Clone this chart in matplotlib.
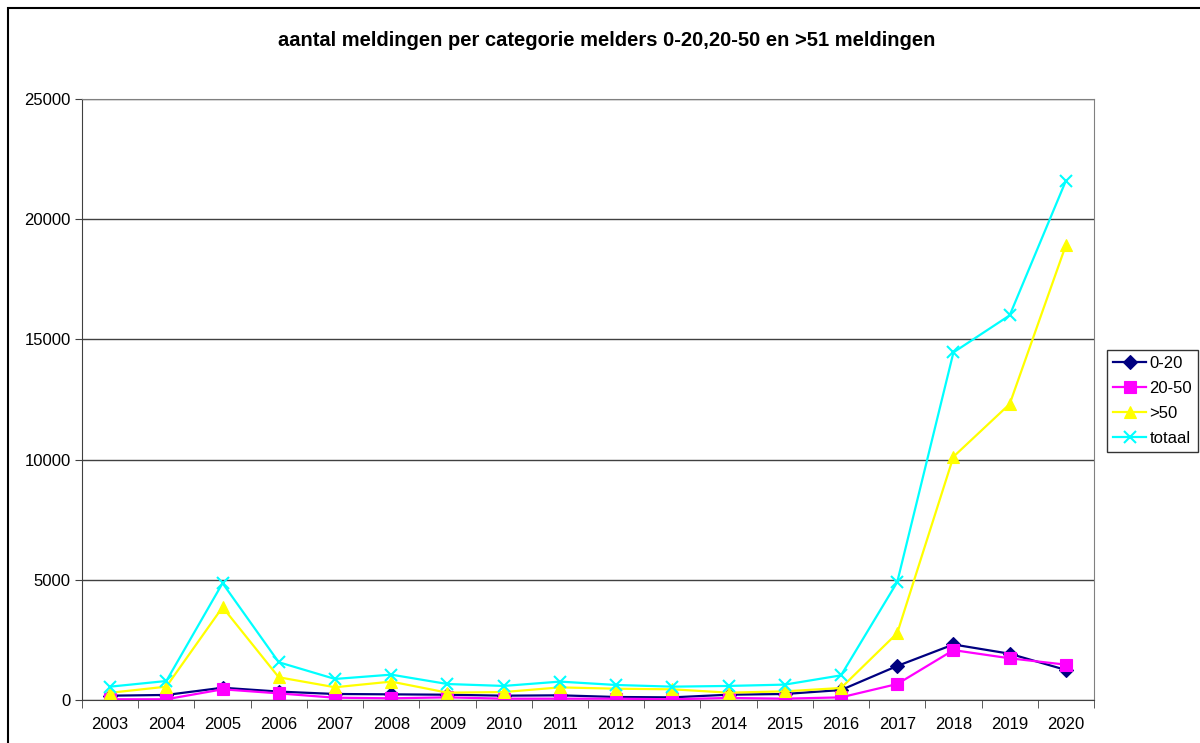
import matplotlib.pyplot as plt
from matplotlib.patches import Rectangle

plt.rcParams['font.family'] = ['Liberation Sans', 'DejaVu Sans']

years = ['2003', '2004', '2005', '2006', '2007', '2008', '2009', '2010', '2011',
         '2012', '2013', '2014', '2015', '2016', '2017', '2018', '2019', '2020']

# values
cat_0_20 = [180, 210, 510, 350, 250, 235, 220, 180, 195,
            125, 110, 220, 250, 415, 1415, 2310, 1925, 1250]
cat_20_50 = [30, 30, 445, 275, 95, 70, 110, 55, 55,
             55, 30, 85, 55, 110, 665, 2075, 1735, 1470]
cat_50 = [300, 555, 3860, 945, 530, 765, 305, 330, 525,
          470, 445, 305, 360, 500, 2780, 10120, 12310, 18920]
totaal = [555, 790, 4860, 1570, 875, 1055, 665, 585, 765,
          625, 555, 585, 640, 1025, 4905, 14460, 16000, 21600]

series = [
    ('0-20', cat_0_20, '#000080', 'D', 7),
    ('20-50', cat_20_50, '#FF00FF', 's', 8),
    ('>50', cat_50, '#FFFF00', '^', 8.5),
    ('totaal', totaal, '#00FFFF', 'x', 8),
]

fig = plt.figure(figsize=(12, 7.43), dpi=100)
ax = fig.add_axes([82 / 1200, 43 / 743, 1012 / 1200, 601 / 743])

# outer chart border
fig.patches.append(Rectangle((8 / 1200, -0.1), 1.1, (743 - 8) / 743 + 0.1,
                             transform=fig.transFigure, fill=False,
                             edgecolor='black', linewidth=1.5))

x = list(range(len(years)))
for name, vals, col, mk, ms in series:
    ax.plot(x, vals, color=col, marker=mk, markersize=ms, linewidth=1.6,
            markeredgewidth=1.5 if mk == 'x' else 0.8, label=name)

ax.set_xlim(-0.5, len(years) - 0.5)
ax.set_ylim(0, 25000)
ax.set_yticks(range(0, 25001, 5000))
ax.yaxis.grid(True, color='#404040', linewidth=1)
ax.set_axisbelow(True)

ax.set_xticks(x)
ax.set_xticklabels(years)
ax.set_xticks([i - 0.5 for i in range(len(years) + 1)], minor=True)
ax.tick_params(axis='x', which='major', length=0, pad=12, labelsize=12)
ax.tick_params(axis='x', which='minor', length=6, direction='out', color='#404040')
ax.tick_params(axis='y', length=5, direction='out', labelsize=12, color='#404040', pad=3)

for side in ['top', 'right']:
    ax.spines[side].set_color('#808080')
for side in ['left', 'bottom']:
    ax.spines[side].set_color('#404040')

fig.text(607 / 1200, 1 - 41 / 743, 'aantal meldingen per categorie melders 0-20,20-50 en >51 meldingen',
         ha='center', va='center', fontsize=14.5, fontweight='bold')

leg = fig.legend(loc='upper left', bbox_to_anchor=(1107 / 1200, 1 - 350 / 743),
                 frameon=True, fancybox=False, fontsize=12, handlelength=2.0,
                 handletextpad=0.2, borderpad=0.35, labelspacing=0.6,
                 borderaxespad=0)
leg.get_frame().set_edgecolor('black')
leg.get_frame().set_linewidth(1)

fig.savefig('out.png', dpi=100)
